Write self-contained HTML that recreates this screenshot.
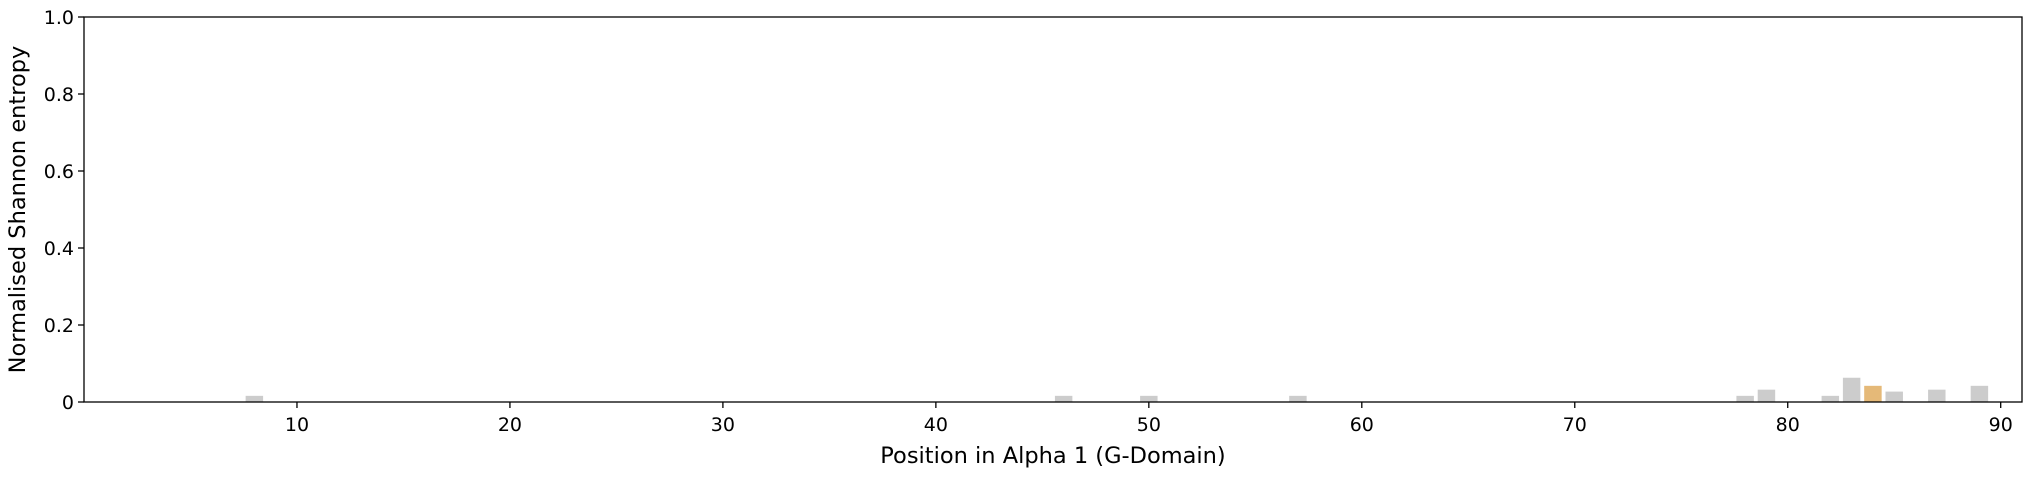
<!DOCTYPE html>
<html><head><meta charset="utf-8"><style>
body{margin:0;background:#fff;}
svg text{font-family:"DejaVu Sans","Liberation Sans",sans-serif;fill:#000;}
</style></head><body>
<svg id="chart" width="2031" height="475" xmlns="http://www.w3.org/2000/svg">
<g id="bars"></g>
<g id="axes"></g>
</svg>
<script>
const positions = [8, 46, 50, 57, 78, 79, 82, 83, 84, 85, 87, 89];
const entropyValues = [0.016, 0.016, 0.016, 0.016, 0.016, 0.032, 0.016, 0.063, 0.042, 0.027, 0.032, 0.042];
const highlightPositions = [84];
const xTicks = [10, 20, 30, 40, 50, 60, 70, 80, 90];
const yTicks = [0, 0.2, 0.4, 0.6, 0.8, 1.0];
const yTickLabels = ["0", "0.2", "0.4", "0.6", "0.8", "1.0"];

const L = 84, R = 2022, T = 17, B = 402;
const xMin = 0, xMax = 91;
const xs = v => L + (v - xMin) / (xMax - xMin) * (R - L);
const ys = v => B - v * (B - T);
const NS = "http://www.w3.org/2000/svg";
function mk(tag, attrs, parent){const e=document.createElementNS(NS,tag);for(const k in attrs)e.setAttribute(k,attrs[k]);parent.appendChild(e);return e;}
const bars = document.getElementById('bars');
const axes = document.getElementById('axes');
const bw = 0.82 * (xs(1) - xs(0));
positions.forEach((p, i) => {
  const v = entropyValues[i];
  const r = mk('rect', {x: xs(p) - bw/2, y: ys(v), width: bw, height: B - ys(v),
    fill: highlightPositions.includes(p) ? '#e5b978' : '#cccccc'}, bars);
  
  
});
const frame = mk('rect', {x: L, y: T, width: R - L, height: B - T, fill: 'none', stroke: '#000', 'stroke-width': 1.3}, axes);


xTicks.forEach(t => {
  mk('line', {x1: xs(t), x2: xs(t), y1: B, y2: B + 6, stroke: '#000', 'stroke-width': 1.3}, axes);
  const tx = mk('text', {x: xs(t), y: B + 29, 'font-size': 19, 'text-anchor': 'middle'}, axes);
  tx.textContent = t;
  
  
});
yTicks.forEach((t, i) => {
  mk('line', {x1: L - 6, x2: L, y1: ys(t), y2: ys(t), stroke: '#000', 'stroke-width': 1.3}, axes);
  const tx = mk('text', {x: L - 10, y: ys(t) + 7, 'font-size': 19, 'text-anchor': 'end'}, axes);
  tx.textContent = yTickLabels[i];
  
  
});
const xl = mk('text', {x: (L + R) / 2, y: 463, 'font-size': 22.5, 'text-anchor': 'middle'}, axes);
xl.textContent = 'Position in Alpha 1 (G-Domain)';


const yl = mk('text', {x: 0, y: 0, 'font-size': 22.5, 'text-anchor': 'middle', transform: 'translate(25,' + ((T + B) / 2) + ') rotate(-90)'}, axes);
yl.textContent = 'Normalised Shannon entropy';


</script>
</body></html>
